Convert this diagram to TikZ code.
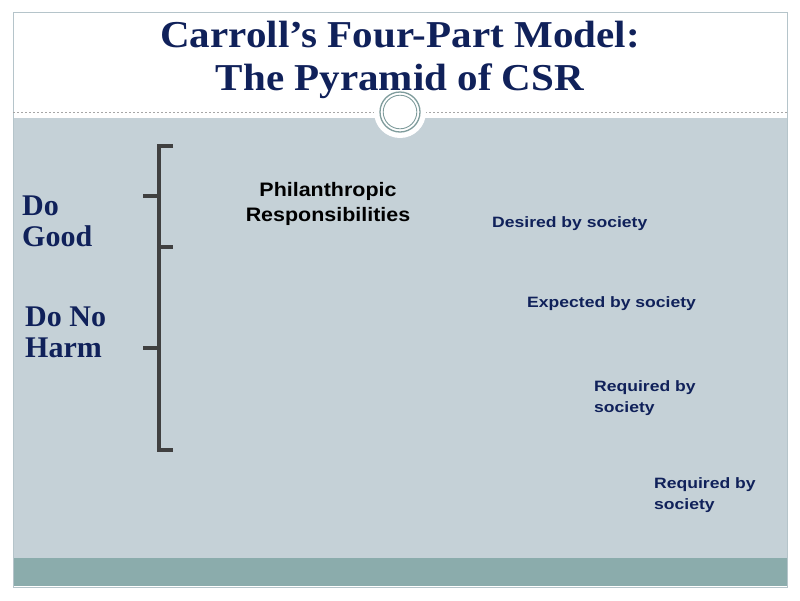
\documentclass[tikz,border=0pt]{standalone}
\usepackage{fontspec}
\setmainfont{Liberation Serif}
\setsansfont{Liberation Sans}
\newfontfamily\titlefont{Liberation Serif}[FakeStretch=1.08]
\newfontfamily\lblfont{Liberation Sans}[FakeStretch=1.17]
\newfontfamily\philfont{Liberation Sans}[FakeStretch=1.1]
\begin{document}
\begin{tikzpicture}[x=1pt,y=-1pt,
  brace/.style={draw=braceg,line width=3.2pt},
  label/.style={anchor=base west,font=\lblfont\bfseries\fontsize{15}{21}\selectfont,text=titleblue,inner sep=0pt},
  side/.style={anchor=base west,font=\rmfamily\bfseries\fontsize{30}{31}\selectfont,text=titleblue,inner sep=0pt},
  phil/.style={anchor=base,font=\philfont\bfseries\fontsize{19.5}{25}\selectfont,text=black,inner sep=0pt},
  ttl/.style={anchor=base,font=\titlefont\bfseries\fontsize{38}{43}\selectfont,text=titleblue,inner sep=0pt}]
\definecolor{titleblue}{HTML}{10215A}
\definecolor{bodyc}{HTML}{C5D1D7}
\definecolor{tealc}{HTML}{8BACAC}
\definecolor{framec}{HTML}{B5C4CA}
\definecolor{braceg}{HTML}{404040}
\definecolor{ringc}{HTML}{7F9C9C}
\useasboundingbox (0,0) rectangle (800,600);
\fill[white] (0,0) rectangle (800,600);
% frame
\fill[bodyc] (13,118) rectangle (787,558);
\fill[tealc] (13,558) rectangle (787,586);
\draw[framec,line width=1pt] (13,12) rectangle (787,587);
\draw[gray!70,line width=0.6pt,dash pattern=on 2pt off 2pt] (13,112) -- (787,112);
% ring
\fill[white] (400,112) circle (26);
\draw[ringc,line width=1.3pt] (400,112) circle (20);
\draw[ringc,line width=0.9pt] (400,112) circle (16.8);
% title
\node[ttl] (t1) at (400,47) {Carroll’s Four-Part Model:};
\node[ttl] (t2) at (400,90) {The Pyramid of CSR};
% brace
\coordinate (bt) at (159,146);
\coordinate (bm) at (159,247);
\coordinate (bb) at (159,450);
\draw[brace] (173,146) -- (bt) -- (bb) -- (173,450);
\draw[brace] (bm) -- (173,247);
\draw[brace] (143,196) -- (159,196);
\draw[brace] (143,348) -- (159,348);
% side labels
\node[side] (good1) at (22,215) {Do};
\node[side] (good2) at (22,246) {Good};
\node[side] (harm1) at (25,326) {Do No};
\node[side] (harm2) at (25,357) {Harm};
% center
\node[phil] (phil1) at (328,196) {Philanthropic};
\node[phil] (phil2) at (328,221) {Responsibilities};
\node[label] (d1) at (492,227) {Desired by society};
\node[label] (d2) at (527,307) {Expected by society};
\node[label] (d3a) at (594,391) {Required by};
\node[label] (d3b) at (594,412) {society};
\node[label] (d4a) at (654,488) {Required by};
\node[label] (d4b) at (654,509) {society};
\end{tikzpicture}
\end{document}
